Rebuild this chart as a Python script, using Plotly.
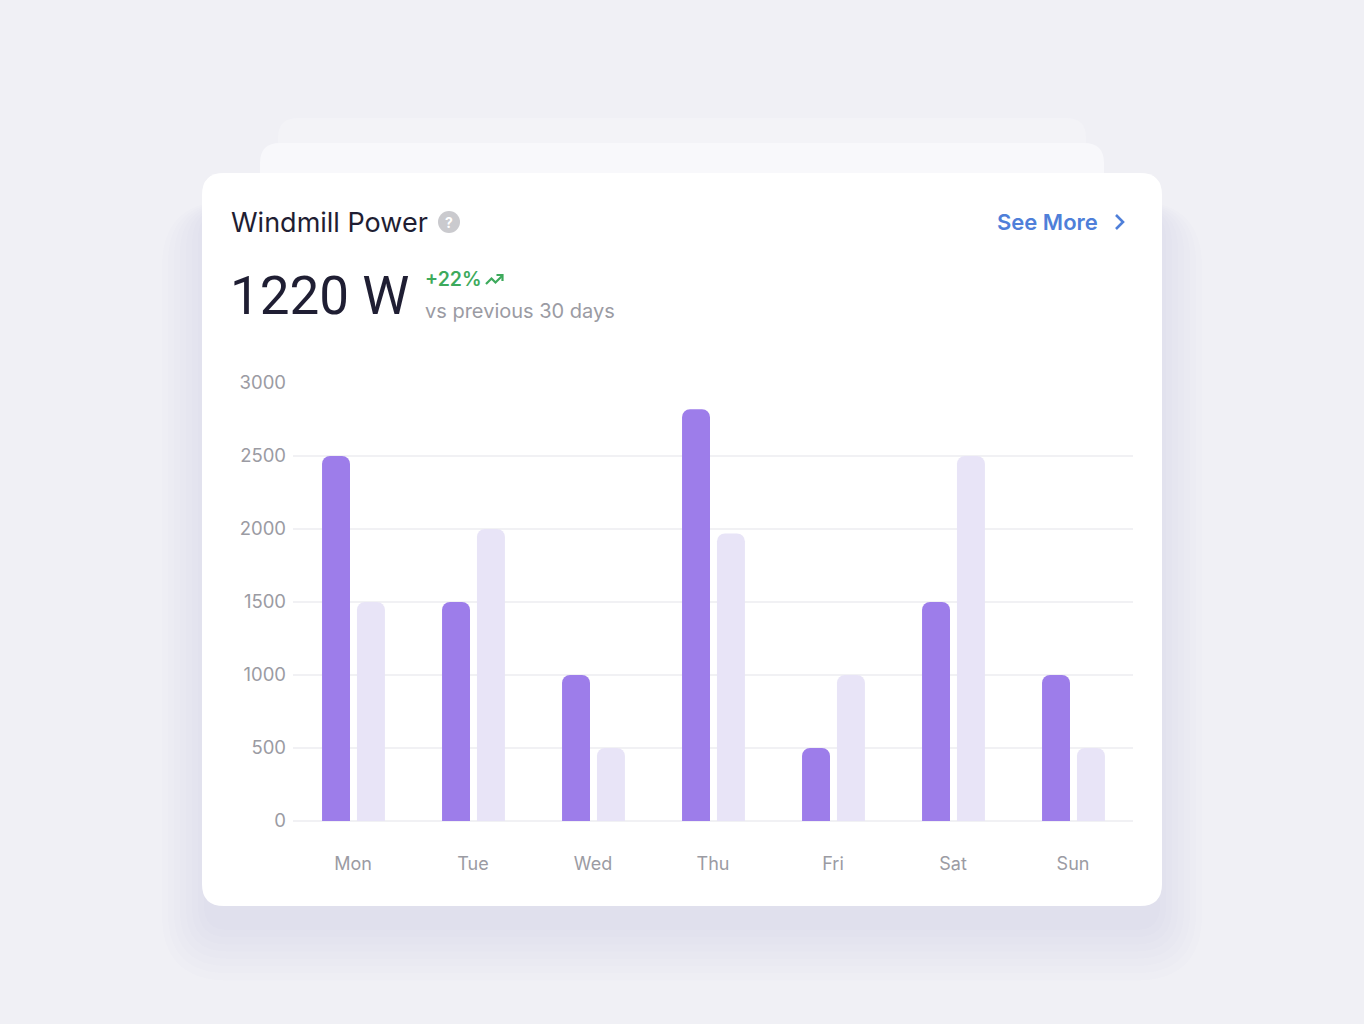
import plotly.graph_objects as go

# chart data
days = ["Mon", "Tue", "Wed", "Thu", "Fri", "Sat", "Sun"]
current_power = [2500, 1500, 1000, 2820, 500, 1500, 1000]
previous_power = [1500, 2000, 500, 1970, 1000, 2500, 500]
y_ticks = [0, 500, 1000, 1500, 2000, 2500, 3000]

W, H = 1364, 1024
FONT = "Inter"


def px(x):
    return x / W


def py(y):
    return 1 - y / H


def rounded_rect(x0, y0, x1, y1, r):
    # rounded rectangle path in pixel space, converted to paper fractions
    pts = [
        ("M", [(x0 + r, y0)]),
        ("L", [(x1 - r, y0)]),
        ("Q", [(x1, y0), (x1, y0 + r)]),
        ("L", [(x1, y1 - r)]),
        ("Q", [(x1, y1), (x1 - r, y1)]),
        ("L", [(x0 + r, y1)]),
        ("Q", [(x0, y1), (x0, y1 - r)]),
        ("L", [(x0, y0 + r)]),
        ("Q", [(x0, y0), (x0 + r, y0)]),
    ]
    out = []
    for cmd, p in pts:
        out.append(cmd + " " + " ".join(f"{px(a):.5f},{py(b):.5f}" for a, b in p))
    return " ".join(out) + " Z"


def polyline(points):
    return "M " + " L ".join(f"{px(a):.5f},{py(b):.5f}" for a, b in points)


shapes = []

# soft shadow under the main card
for i in range(8):
    g = i * 6
    shapes.append(dict(type="path", xref="paper", yref="paper",
                       path=rounded_rect(204 - g, 210 - g * 0.2, 1160 + g, 930 + g * 1.2, 24 + g),
                       fillcolor="rgba(115,115,130,0.011)", line=dict(width=0), layer="below"))

# stacked cards behind
shapes.append(dict(type="path", xref="paper", yref="paper",
                   path=rounded_rect(278, 118, 1086, 300, 20),
                   fillcolor="#f3f3f7", line=dict(width=0), layer="below"))
shapes.append(dict(type="path", xref="paper", yref="paper",
                   path=rounded_rect(260, 143, 1104, 400, 20),
                   fillcolor="#f8f8fb", line=dict(width=0), layer="below"))
# main card
shapes.append(dict(type="path", xref="paper", yref="paper",
                   path=rounded_rect(202, 173, 1162, 906, 22),
                   fillcolor="#ffffff", line=dict(width=0), layer="below"))

# help icon circle
shapes.append(dict(type="circle", xref="paper", yref="paper",
                   x0=px(438), x1=px(460), y0=py(233), y1=py(211),
                   fillcolor="#cacace", line=dict(width=0)))

# trend arrow
shapes.append(dict(type="path", xref="paper", yref="paper",
                   path=polyline([(486, 284), (491.5, 278.5), (495.5, 282.5), (502, 276)]),
                   line=dict(color="#3daa5c", width=2.2)))
shapes.append(dict(type="path", xref="paper", yref="paper",
                   path=polyline([(496.5, 275), (502.5, 275), (502.5, 281)]),
                   line=dict(color="#3daa5c", width=2.2)))

# see more chevron
shapes.append(dict(type="path", xref="paper", yref="paper",
                   path=polyline([(1116, 215), (1123, 222), (1116, 229)]),
                   line=dict(color="#4f7fd9", width=2.6)))

annotations = [
    dict(text="Windmill Power", x=px(229), y=py(222), xanchor="left", yanchor="middle",
         font=dict(family=FONT, size=27, color="#1f1e33")),
    dict(text="<b>?</b>", x=px(449), y=py(222), xanchor="center", yanchor="middle",
         font=dict(family=FONT, size=14, color="#ffffff")),
    dict(text="See More", x=px(1100), y=py(222), xanchor="right", yanchor="middle",
         font=dict(family=FONT, size=22, color="#4f7fd9", weight=600)),
    dict(text="1220 W", x=px(228), y=py(296), xanchor="left", yanchor="middle",
         font=dict(family="Roboto", size=53, color="#1f1e33")),
    dict(text="+22%", x=px(423), y=py(279), xanchor="left", yanchor="middle",
         font=dict(family=FONT, size=19.5, color="#3daa5c", weight=600)),
    dict(text="vs previous 30 days", x=px(423), y=py(311), xanchor="left", yanchor="middle",
         font=dict(family=FONT, size=20, color="#9b9ba3")),
]
for a in annotations:
    a.update(xref="paper", yref="paper", showarrow=False)

fig = go.Figure()
fig.add_trace(go.Bar(x=days, y=current_power, name="Current",
                     marker=dict(color="#9d7dea", line=dict(width=0)),
                     offset=-0.258, width=0.233))
fig.add_trace(go.Bar(x=days, y=previous_power, name="Previous",
                     marker=dict(color="#e8e4f7", line=dict(width=0)),
                     offset=0.033, width=0.233))

fig.update_layout(
    width=W, height=H,
    margin=dict(l=0, r=0, t=0, b=0, pad=0, autoexpand=False),
    paper_bgcolor="#f0f0f5",
    plot_bgcolor="rgba(0,0,0,0)",
    barmode="overlay",
    barcornerradius=8,
    showlegend=False,
    shapes=shapes,
    annotations=annotations,
    font=dict(family=FONT),
    xaxis=dict(domain=[px(293), px(1133)], range=[-0.5, 6.5], showgrid=False,
               zeroline=False, showline=False, ticks="", ticklabelstandoff=30,
               automargin=False,
               tickfont=dict(family=FONT, size=18, color="#9b9ba3")),
    yaxis=dict(domain=[py(821), py(383)], range=[0, 3000], tickvals=y_ticks,
               showgrid=True, gridcolor="#f1f1f4", gridwidth=1.5,
               zeroline=True, zerolinecolor="#f1f1f4", zerolinewidth=1.5,
               showline=False, ticks="", ticklabelstandoff=6, automargin=False,
               tickfont=dict(family=FONT, size=18.5, color="#9b9ba3")),
)

fig.write_html("out.html", config={"displayModeBar": False},
               post_script="document.body.style.margin='0';")
